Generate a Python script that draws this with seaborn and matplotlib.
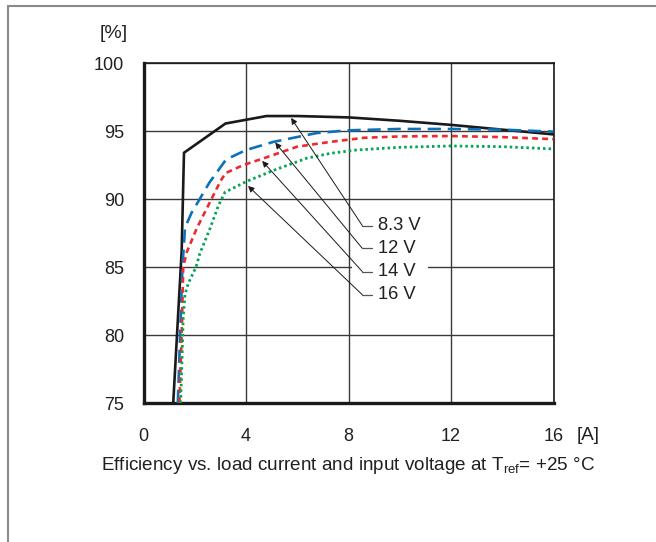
import numpy as np
import pandas as pd
import seaborn as sns
import matplotlib.pyplot as plt
from matplotlib.lines import Line2D
from matplotlib.patches import Rectangle

# efficiency curves (x in A, y in %)
x_83 = [1.16, 1.49, 1.58, 3.2, 4.8, 6.0, 8.0, 10.0, 12.0, 14.0, 16.0]
y_83 = [75.0, 86.2, 93.4, 95.55, 96.1, 96.1, 96.0, 95.75, 95.45, 95.1, 94.75]

x_12 = [1.34, 1.43, 1.52, 1.62, 1.88, 2.07, 2.57, 3.22, 4.0, 5.07, 6.76, 8.0, 10.0, 12.0, 14.0, 16.0]
y_12 = [75.0, 80.0, 85.0, 87.9, 89.0, 89.6, 91.2, 92.9, 93.6, 94.2, 94.85, 95.05, 95.15, 95.15, 95.1, 94.95]

x_14 = [1.4, 1.49, 1.55, 1.69, 2.08, 2.6, 3.0, 3.2, 3.9, 4.7, 6.0, 7.3, 8.6, 10.0, 12.0, 14.0, 16.0]
y_14 = [75.0, 80.0, 85.0, 86.1, 87.85, 89.8, 91.3, 91.9, 92.5, 93.0, 93.85, 94.2, 94.5, 94.6, 94.63, 94.55, 94.4]

x_16 = [1.45, 1.5, 1.55, 1.62, 1.75, 2.05, 2.2, 2.6, 2.92, 3.18, 4.03, 5.07, 6.37, 7.3, 8.3, 10.0, 12.0, 14.0, 16.0]
y_16 = [75.0, 78.0, 81.3, 83.0, 83.8, 85.0, 86.0, 87.85, 89.5, 90.5, 91.3, 92.1, 93.0, 93.36, 93.6, 93.8, 93.9, 93.85, 93.68]

labels = ["8.3 V", "12 V", "14 V", "16 V"]
# arrow tips on the curves and label heights
arrow_x = [5.76, 5.14, 4.63, 4.08]
arrow_y = [95.96, 94.15, 92.8, 90.96]
label_y = [88.04, 86.37, 84.66, 82.96]

x_ticks = [0, 4, 8, 12, 16]
y_ticks = [75, 80, 85, 90, 95, 100]

sns.set_style("white")
plt.rcParams["font.family"] = ["Liberation Sans", "DejaVu Sans"]
plt.rcParams["mathtext.fontset"] = "custom"
plt.rcParams["mathtext.rm"] = "Liberation Sans"

txt_col = "#231f20"

fig = plt.figure(figsize=(6.56, 5.42), dpi=100)
ax = fig.add_axes([143.5 / 656, 139 / 542, 410 / 656, 340 / 542])

# outer frame (top and left only)
fig.add_artist(Line2D([8 / 656, 1], [1 - 6 / 542, 1 - 6 / 542], color="#8a8a8a", lw=1.5))
fig.add_artist(Line2D([8 / 656, 8 / 656], [0, 1 - 6 / 542], color="#8a8a8a", lw=1.5))

styles = [
    (x_83, y_83, "#1a1a1a", 1.9, "solid"),
    (x_12, y_12, "#0b72b9", 1.9, (0, (5, 2.6))),
    (x_14, y_14, "#ee2a2e", 1.9, (0, (2.2, 1.6))),
    (x_16, y_16, "#00a651", 2.0, (0, (0.9, 1.1))),
]
for xs, ys, col, lw, ls in styles:
    df = pd.DataFrame({"A": xs, "eff": ys})
    sns.lineplot(data=df, x="A", y="eff", ax=ax, color=col, linewidth=lw,
                 linestyle=ls, sort=False, estimator=None, zorder=3)

ax.set_xlim(0, 16)
ax.set_ylim(75, 100)
ax.set_xticks(x_ticks)
ax.set_yticks(y_ticks)
ax.set_xticklabels([str(t) for t in x_ticks])
ax.set_yticklabels([str(t) for t in y_ticks])
ax.tick_params(length=0, labelsize=13, colors=txt_col)
ax.tick_params(axis="x", pad=18)
ax.tick_params(axis="y", pad=14)
ax.set_xlabel("")
ax.set_ylabel("")
ax.grid(True, color="#3a3a3a", lw=1.0)
ax.set_axisbelow(True)
for side in ["left", "bottom"]:
    ax.spines[side].set_linewidth(2.4)
    ax.spines[side].set_color("#1a1a1a")
for side in ["top", "right"]:
    ax.spines[side].set_linewidth(1.2)
    ax.spines[side].set_color("#1a1a1a")

# white gap in the 85 % grid line behind the labels
ax.add_patch(Rectangle((8.14, 84.7), 2.96, 0.6, facecolor="white", edgecolor="none", zorder=1.5))

# curve labels with leader arrows
for lab, ax_x, ax_y, ly in zip(labels, arrow_x, arrow_y, label_y):
    ax.annotate("", xy=(ax_x, ax_y), xytext=(8.54, ly),
                arrowprops=dict(arrowstyle="-|>", color="#1a1a1a", lw=0.7,
                                mutation_scale=9, shrinkA=0, shrinkB=0), zorder=4)
    ax.plot([8.54, 8.9], [ly, ly], color="#555555", lw=0.9, zorder=4)
    ax.text(9.16, ly, lab, fontsize=13.2, va="center", ha="left", color=txt_col, zorder=4)

fig.text(114 / 656, 1 - 33 / 542, "[%]", fontsize=14, ha="center", va="center", color=txt_col)
fig.text(588 / 656, 1 - 435 / 542, "[A]", fontsize=13.5, ha="center", va="center", color=txt_col)
fig.text(348 / 656, 1 - 466 / 542,
         r"Efficiency vs. load current and input voltage at T$_{\mathrm{ref}}$= +25 °C",
         fontsize=13.6, ha="center", va="center", color=txt_col)

fig.savefig("out.png", dpi=100)
